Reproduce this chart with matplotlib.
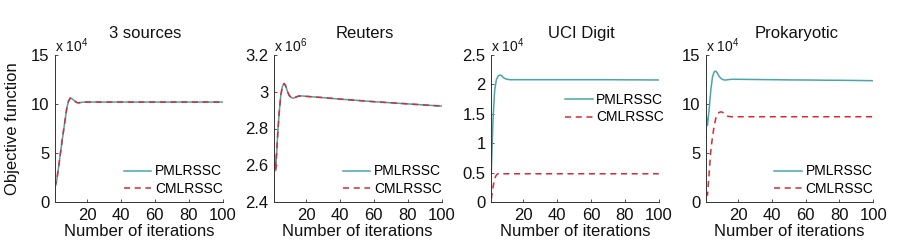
import matplotlib
matplotlib.use("Agg")
import matplotlib.pyplot as plt

plt.rcParams['font.family'] = ['Liberation Sans', 'DejaVu Sans']
plt.rcParams['mathtext.fontset'] = 'custom'
plt.rcParams['mathtext.rm'] = 'Liberation Sans'
plt.rcParams['mathtext.it'] = 'Liberation Sans:italic'
plt.rcParams['mathtext.default'] = 'regular'

iters = [1, 2, 3, 4, 5, 6, 7, 8, 9, 10, 11, 12, 13, 14, 15, 16, 18, 20,
         30, 40, 50, 60, 70, 80, 90, 100]

titles = ["3 sources", "Reuters", "UCI Digit", "Prokaryotic"]
exponents = ["4", "6", "4", "4"]

src3_p = [1.5, 2.2, 3.4, 4.7, 6.0, 7.2, 8.4, 9.6, 10.3, 10.6, 10.55, 10.4, 10.25, 10.15,
          10.12, 10.15, 10.2, 10.2, 10.2, 10.2, 10.2, 10.2, 10.2, 10.2, 10.2, 10.2]
src3_c = [1.5, 2.2, 3.4, 4.7, 6.0, 7.2, 8.4, 9.6, 10.3, 10.6, 10.55, 10.4, 10.25, 10.15,
          10.12, 10.15, 10.2, 10.2, 10.2, 10.2, 10.2, 10.2, 10.2, 10.2, 10.2, 10.2]

reut_p = [2.68, 2.57, 2.74, 2.88, 2.98, 3.03, 3.045, 3.03, 3.0, 2.98, 2.97, 2.965, 2.967,
          2.971, 2.975, 2.977, 2.977, 2.975, 2.968, 2.96, 2.953, 2.946, 2.94, 2.934, 2.928, 2.922]
reut_c = [2.68, 2.57, 2.74, 2.88, 2.98, 3.03, 3.045, 3.03, 3.0, 2.98, 2.97, 2.965, 2.967,
          2.971, 2.975, 2.977, 2.977, 2.975, 2.968, 2.96, 2.953, 2.946, 2.94, 2.934, 2.928, 2.922]

uci_p = [0.5, 1.4, 1.9, 2.08, 2.14, 2.16, 2.15, 2.12, 2.1, 2.09, 2.085, 2.08, 2.08, 2.08,
         2.08, 2.08, 2.08, 2.08, 2.08, 2.08, 2.08, 2.08, 2.08, 2.078, 2.077, 2.075]
uci_c = [0.05, 0.25, 0.4, 0.46, 0.48, 0.48, 0.48, 0.48, 0.48, 0.48, 0.48, 0.48, 0.48, 0.48,
         0.48, 0.48, 0.48, 0.48, 0.48, 0.48, 0.48, 0.48, 0.48, 0.48, 0.48, 0.48]

prok_p = [9.2, 7.8, 9.5, 11.5, 12.8, 13.3, 13.35, 13.1, 12.8, 12.6, 12.5, 12.45, 12.45,
          12.48, 12.5, 12.52, 12.52, 12.52, 12.5, 12.48, 12.46, 12.45, 12.43, 12.42, 12.4, 12.38]
prok_c = [0.9, 0.7, 3.0, 5.3, 6.7, 7.8, 8.6, 9.0, 9.15, 9.2, 9.15, 9.0, 8.85, 8.75,
          8.72, 8.7, 8.7, 8.7, 8.7, 8.7, 8.7, 8.7, 8.7, 8.7, 8.7, 8.7]

series_p = [src3_p, reut_p, uci_p, prok_p]
series_c = [src3_c, reut_c, uci_c, prok_c]

ylims = [(0, 15), (2.4, 3.2), (0, 2.5), (0, 15)]
yticks = [[0, 5, 10, 15], [2.4, 2.6, 2.8, 3.0, 3.2], [0, 0.5, 1, 1.5, 2, 2.5], [0, 5, 10, 15]]
ytick_labels = [["0", "5", "10", "15"], ["2.4", "2.6", "2.8", "3", "3.2"],
                ["0", "0.5", "1", "1.5", "2", "2.5"], ["0", "5", "10", "15"]]
xticks = [20, 40, 60, 80, 100]
xtick_labels = ["20", "40", "60", "80", "100"]

W, H = 900, 248
lefts = [55, 274, 491.3, 705.8]
ax_w = 167.5
ax_top, ax_bot = 55, 202
legend_anchor = [(1.05, -0.015), (1.05, -0.015), (1.08, 0.635), (1.05, -0.015)]
legend_loc = ["lower right", "lower right", "center right", "lower right"]

teal = "#4aa6a6"
red = "#d42b36"
spine_col = "#333333"

fig = plt.figure(figsize=(W / 100, H / 100), dpi=100)

for i in range(4):
    ax = fig.add_axes([lefts[i] / W, (H - ax_bot) / H, ax_w / W, (ax_bot - ax_top) / H])
    ax.plot(iters, series_p[i], color=teal, lw=1.1, label="PMLRSSC")
    ax.plot(iters, series_c[i], color=red, lw=1.1, ls=(0, (4, 3)), label="CMLRSSC")
    ax.set_xlim(1, 100)
    ax.set_ylim(*ylims[i])
    ax.set_xticks(xticks)
    ax.set_xticklabels(xtick_labels)
    ax.set_yticks(yticks[i])
    ax.set_yticklabels(ytick_labels[i])
    for s in ["top", "right"]:
        ax.spines[s].set_visible(False)
    for s in ["left", "bottom"]:
        ax.spines[s].set_color(spine_col)
        ax.spines[s].set_linewidth(0.7)
    ax.tick_params(direction="in", length=2.5, width=0.6, color=spine_col,
                   labelsize=12, pad=4, labelcolor="#111111")
    ax.set_title(titles[i], fontsize=12, pad=12, x=0.54, color="#111111")
    ax.text(0.0, 1.0, r"x 10$^{%s}$" % exponents[i], transform=ax.transAxes,
            ha="left", va="bottom", fontsize=10, color="#111111")
    ax.set_xlabel("Number of iterations", fontsize=12, labelpad=1, color="#111111")
    ax.legend(loc=legend_loc[i], bbox_to_anchor=legend_anchor[i], frameon=False,
              fontsize=10, handlelength=2.0, handletextpad=0.25,
              labelspacing=0.25, borderaxespad=0.2)

fig.text(13 / W, (H - (ax_top + ax_bot) / 2) / H, "Objective function", rotation=90,
         ha="center", va="center", fontsize=12, color="#111111")

fig.savefig("out.png", dpi=100, facecolor="white")
